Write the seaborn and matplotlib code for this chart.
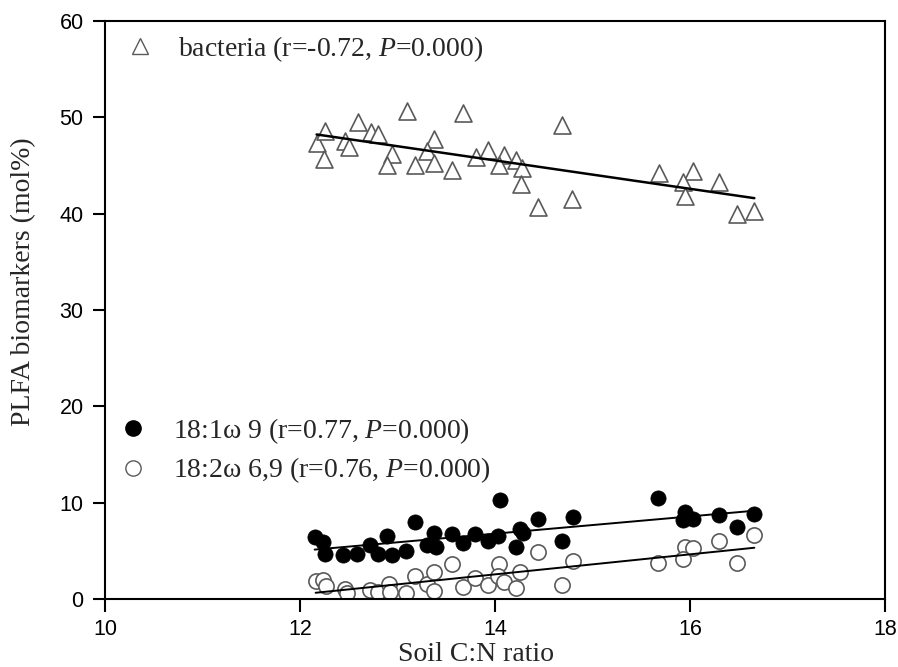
import numpy as np
import pandas as pd
import matplotlib
matplotlib.use("Agg")
import matplotlib.pyplot as plt
from matplotlib.lines import Line2D
import seaborn as sns

# ---------------- data ----------------
bact_x = [12.17, 12.26, 12.25, 12.46, 12.50, 12.59, 12.73, 12.80, 12.94, 12.89,
          13.10, 13.18, 13.37, 13.30, 13.37, 13.56, 13.67, 13.80, 13.93, 14.09,
          14.04, 14.22, 14.28, 14.27, 14.44, 14.69, 14.79, 15.68, 16.03, 15.93,
          16.30, 15.95, 16.48, 16.66]
bact_y = [47.3, 48.6, 45.7, 47.5, 46.9, 49.5, 48.5, 48.3, 46.2, 45.1,
          50.7, 45.1, 47.8, 46.5, 45.3, 44.5, 50.5, 45.9, 46.6, 46.1,
          45.1, 45.6, 44.7, 43.1, 40.7, 49.2, 41.5, 44.2, 44.4, 43.3,
          43.3, 41.8, 40.0, 40.3]

f181_x = [12.15, 12.24, 12.26, 12.44, 12.58, 12.72, 12.80, 12.89, 12.94, 13.09,
          13.18, 13.30, 13.37, 13.39, 13.56, 13.67, 13.79, 13.93, 14.05, 14.03,
          14.22, 14.26, 14.29, 14.44, 14.69, 14.80, 15.67, 15.95, 15.93, 16.03,
          16.30, 16.48, 16.66]
f181_y = [6.4, 5.9, 4.7, 4.6, 4.7, 5.6, 4.7, 6.5, 4.6, 5.0,
          8.0, 5.6, 6.8, 5.4, 6.7, 5.8, 6.7, 6.0, 10.3, 6.5,
          5.4, 7.3, 6.8, 8.3, 6.0, 8.5, 10.5, 9.0, 8.2, 8.3,
          8.7, 7.5, 8.8]

f182_x = [12.16, 12.24, 12.27, 12.46, 12.48, 12.72, 12.80, 12.91, 12.92, 13.09,
          13.18, 13.30, 13.37, 13.37, 13.56, 13.67, 13.79, 13.93, 14.04, 14.03,
          14.09, 14.22, 14.26, 14.44, 14.69, 14.80, 15.67, 15.95, 16.03, 15.93,
          16.30, 16.48, 16.66]
f182_y = [1.9, 2.0, 1.3, 1.0, 0.6, 0.9, 0.7, 1.6, 0.7, 0.6,
          2.4, 1.6, 2.8, 0.8, 3.6, 1.2, 2.2, 1.5, 3.6, 2.4,
          1.8, 1.1, 2.8, 4.9, 1.4, 3.9, 3.7, 5.4, 5.3, 4.1,
          6.0, 3.7, 6.6]

labels = ["bacteria (r=-0.72, $\\it{P}$=0.000)",
          "18:1\u03c9 9 (r=0.77, $\\it{P}$=0.000)",
          "18:2\u03c9 6,9 (r=0.76, $\\it{P}$=0.000)"]
x_ticks = [10, 12, 14, 16, 18]
y_ticks = [0, 10, 20, 30, 40, 50, 60]

# ---------------- style ----------------
sns.set_style("ticks")
plt.rcParams["font.family"] = ["Liberation Serif", "DejaVu Serif"]
plt.rcParams["mathtext.fontset"] = "custom"
plt.rcParams["mathtext.rm"] = "Liberation Serif"
plt.rcParams["mathtext.it"] = "Liberation Serif:italic"

fig = plt.figure(figsize=(8.98, 6.67), dpi=100)
ax = fig.add_axes([0.117, 0.102, 0.8685, 0.8665])

edge_grey = "#5a5a5a"

df_b = pd.DataFrame({"x": bact_x, "y": bact_y})
df_1 = pd.DataFrame({"x": f181_x, "y": f181_y})
df_2 = pd.DataFrame({"x": f182_x, "y": f182_y})

sns.regplot(data=df_b, x="x", y="y", ax=ax, ci=None, marker="^", color="black",
            scatter_kws=dict(s=150, facecolors="white", edgecolors=edge_grey,
                             linewidths=1.2, alpha=1, zorder=2),
            line_kws=dict(color="black", lw=1.8, zorder=3))
sns.regplot(data=df_2, x="x", y="y", ax=ax, ci=None, marker="o", color="black",
            scatter_kws=dict(s=120, facecolors="white", edgecolors=edge_grey,
                             linewidths=1.2, alpha=1, zorder=2),
            line_kws=dict(color="black", lw=1.4, zorder=3))
sns.regplot(data=df_1, x="x", y="y", ax=ax, ci=None, marker="o", color="black",
            scatter_kws=dict(s=120, facecolors="black", edgecolors="black",
                             linewidths=0.5, alpha=1, zorder=2),
            line_kws=dict(color="black", lw=1.4, zorder=3))

ax.set_xlim(10, 18)
ax.set_ylim(0, 60)
ax.set_xticks(x_ticks)
ax.set_yticks(y_ticks)
ax.set_xlabel("Soil C:N ratio", fontsize=20)
ax.set_ylabel("PLFA biomarkers (mol%)", fontsize=20)
ax.xaxis.set_label_coords(0.475, -0.074)
ax.yaxis.set_label_coords(-0.088, 0.549)
for lab in ax.get_xticklabels() + ax.get_yticklabels():
    lab.set_family("Liberation Sans")
    lab.set_fontsize(15.5)
ax.tick_params(axis="y", direction="out", length=9, width=1.5, pad=6.5, colors="black")
ax.tick_params(axis="x", direction="out", length=9, width=1.5, pad=5.5, colors="black")
for sp in ax.spines.values():
    sp.set_visible(True)
    sp.set_linewidth(1.5)
    sp.set_color("black")

# ---------------- legends ----------------
h_b = Line2D([], [], marker="^", ls="none", markersize=11, markerfacecolor="white",
             markeredgecolor=edge_grey, markeredgewidth=1.0)
h_1 = Line2D([], [], marker="o", ls="none", markersize=11, markerfacecolor="black",
             markeredgecolor="black")
h_2 = Line2D([], [], marker="o", ls="none", markersize=11, markerfacecolor="white",
             markeredgecolor=edge_grey, markeredgewidth=1.0)

leg1 = ax.legend([h_b], [labels[0]], loc="center left", bbox_to_anchor=(0.027, 0.952),
                 frameon=False, fontsize=20, handlelength=1.0, handletextpad=0.86,
                 borderpad=0, borderaxespad=0)
ax.add_artist(leg1)
ax.legend([h_1, h_2], labels[1:], loc="center left", bbox_to_anchor=(0.018, 0.2565),
          frameon=False, fontsize=20, handlelength=1.0, handletextpad=0.94,
          borderpad=0, borderaxespad=0, labelspacing=0.34)

fig.savefig("out.png", dpi=100)
